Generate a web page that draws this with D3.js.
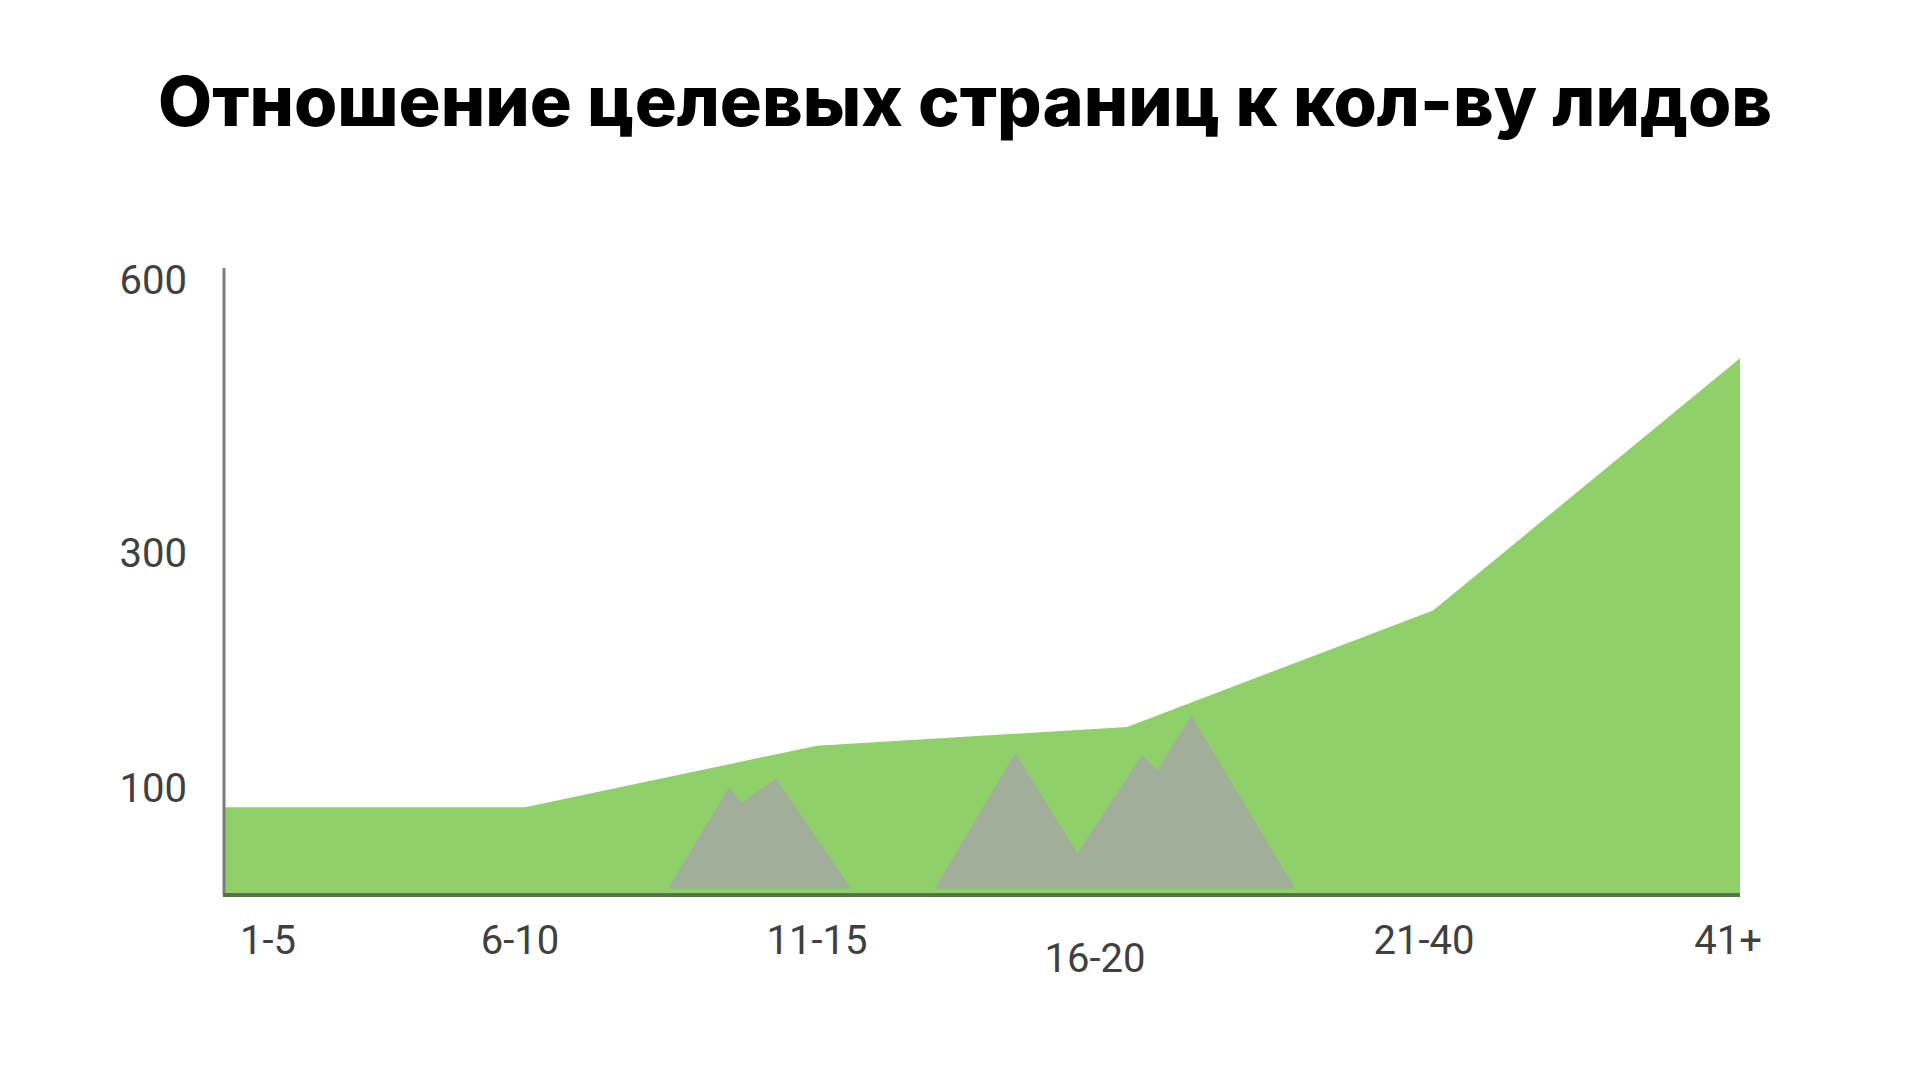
<!DOCTYPE html>
<html>
<head>
<meta charset="utf-8">
<script src="https://cdn.jsdelivr.net/npm/d3@7"></script>
<style>
  html, body { margin: 0; padding: 0; background: #fff; }
  svg { display: block; }
  .tick-label { font-family: Roboto, "Liberation Sans", sans-serif; fill: #404040; }
</style>
</head>
<body>
<div id="chart"></div>
<script>
const title = "Отношение целевых страниц к кол-ву лидов";

const categories = ["1-5", "6-10", "11-15", "16-20", "21-40", "41+"];
const leads = [82, 82, 136, 152, 251, 514];
const yTicks = [100, 300, 600];

// faded mountain watermark sitting inside the area (x in category index, y in value units)
const watermark = [
    [[1.49, 6], [1.70, 101], [1.74, 86], [1.86, 108], [2.11, 6]],
    [[2.38, 6], [2.64, 130], [2.84, 39], [3.05, 128], [3.10, 115], [3.21, 162], [3.55, 6]]
];

const width = 1920, height = 1080;

const svg = d3.select("#chart").append("svg")
    .attr("width", width)
    .attr("height", height);

// the original columns are not quite evenly spaced, so both scales are piecewise
const xIndex = d3.scaleLinear()
    .domain(d3.range(categories.length))
    .range([224, 525, 817, 1127, 1433, 1740]);
const x = d => xIndex(categories.indexOf(d));

const y = d3.scaleLinear()
    .domain([0, 100, 300, 600])
    .range([895, 788, 553, 280]);

svg.append("text")
    .attr("x", 965)
    .attr("y", 126)
    .attr("text-anchor", "middle")
    .attr("textLength", 1614)
    .attr("lengthAdjust", "spacingAndGlyphs")
    .style("font-family", "Inter, 'Noto Sans', sans-serif")
    .style("font-weight", 800)
    .style("font-size", "69px")
    .style("fill", "#000")
    .text(title);

const defs = svg.append("defs");
const pattern = defs.append("pattern")
    .attr("id", "dots")
    .attr("width", 2)
    .attr("height", 2)
    .attr("patternUnits", "userSpaceOnUse");
pattern.append("rect").attr("width", 2).attr("height", 2).attr("fill", "#8fcf6b");
pattern.append("rect").attr("width", 1).attr("height", 1).attr("fill", "#9aa893");
pattern.append("rect").attr("x", 1).attr("y", 1).attr("width", 1).attr("height", 1).attr("fill", "#9aa893");

const area = d3.area()
    .x((d, i) => xIndex(i))
    .y0(y(0))
    .y1(d => y(d));

svg.append("path")
    .datum(leads)
    .attr("fill", "#8fd06b")
    .attr("d", area);

svg.selectAll(".mountain")
    .data(watermark)
    .enter().append("path")
        .attr("class", "mountain")
        .attr("fill", "url(#dots)")
        .attr("d", d3.line().x(d => xIndex(d[0])).y(d => y(d[1])));

// y axis: plain line, labels only
svg.append("line")
    .attr("x1", xIndex(0)).attr("x2", xIndex(0))
    .attr("y1", 268).attr("y2", y(0))
    .attr("stroke", "#7d7d7d")
    .attr("stroke-width", 3);

svg.append("line")
    .attr("x1", xIndex(0) - 1).attr("x2", xIndex(categories.length - 1))
    .attr("y1", y(0)).attr("y2", y(0))
    .attr("stroke", "#55734a")
    .attr("stroke-width", 4);

svg.selectAll(".y-label")
    .data(yTicks)
    .enter().append("text")
        .attr("class", "tick-label y-label")
        .attr("x", 187)
        .attr("y", d => y(d))
        .attr("dy", "0.36em")
        .attr("text-anchor", "end")
        .style("font-size", "40px")
        .text(d => d);

// small nudges so labels sit where the original put them
const nudge = { "1-5": [44, 0], "6-10": [-5, 0], "16-20": [-32, 18], "21-40": [-9, 0], "41+": [-12, 0] };

svg.selectAll(".x-label")
    .data(categories)
    .enter().append("text")
        .attr("class", "tick-label x-label")
        .attr("x", d => x(d) + (nudge[d] ? nudge[d][0] : 0))
        .attr("y", d => 940 + (nudge[d] ? nudge[d][1] : 0))
        .attr("dy", "0.36em")
        .attr("text-anchor", "middle")
        .style("font-size", "40px")
        .text(d => d);
</script>
</body>
</html>
